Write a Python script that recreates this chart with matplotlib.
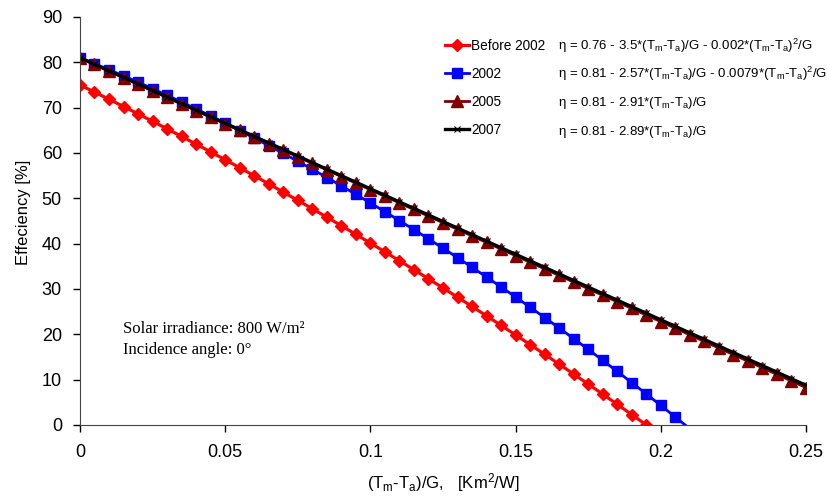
import matplotlib
matplotlib.use('Agg')
import matplotlib.pyplot as plt

plt.rcParams['font.family'] = ['Liberation Sans', 'DejaVu Sans']
plt.rcParams['mathtext.fontset'] = 'custom'
plt.rcParams['mathtext.rm'] = 'Liberation Sans'
plt.rcParams['mathtext.it'] = 'Liberation Sans:italic'

# x = (Tm-Ta)/G  [Km2/W]
x_vals = [0.0, 0.005, 0.01, 0.015, 0.02, 0.025, 0.03, 0.035, 0.04, 0.045,
          0.05, 0.055, 0.06, 0.065, 0.07, 0.075, 0.08, 0.085, 0.09, 0.095,
          0.1, 0.105, 0.11, 0.115, 0.12, 0.125, 0.13, 0.135, 0.14, 0.145,
          0.15, 0.155, 0.16, 0.165, 0.17, 0.175, 0.18, 0.185, 0.19, 0.195,
          0.2, 0.205, 0.21, 0.215, 0.22, 0.225, 0.23, 0.235, 0.24, 0.245, 0.25]

eff_before2002 = [75.0, 73.44, 71.85, 70.25, 68.63, 66.99, 65.33, 63.65, 61.96, 60.24,
                  58.51, 56.75, 54.98, 53.19, 51.38, 49.55, 47.71, 45.84, 43.96, 42.05,
                  40.13, 38.19, 36.23, 34.25, 32.25, 30.23, 28.20, 26.14, 24.07, 21.98,
                  19.87, 17.74, 15.59, 13.42, 11.23, 9.03, 6.81, 4.56, 2.30, 0.02]

eff_2002 = [81.0, 79.70, 78.37, 77.00, 75.61, 74.18, 72.72, 71.23, 69.71, 68.16,
            66.57, 64.95, 63.30, 61.62, 59.91, 58.17, 56.40, 54.59, 52.75, 50.88,
            48.98, 47.05, 45.08, 43.09, 41.06, 39.00, 36.91, 34.79, 32.63, 30.45,
            28.23, 25.98, 23.70, 21.39, 19.05, 16.67, 14.26, 11.82, 9.35, 6.85,
            4.32, 1.76, -0.84]

eff_2005 = [81.0, 79.55, 78.09, 76.64, 75.18, 73.73, 72.27, 70.82, 69.36, 67.91,
            66.45, 65.00, 63.54, 62.09, 60.63, 59.18, 57.72, 56.27, 54.81, 53.36,
            51.90, 50.45, 48.99, 47.54, 46.08, 44.63, 43.17, 41.72, 40.26, 38.81,
            37.35, 35.90, 34.44, 32.99, 31.53, 30.08, 28.62, 27.17, 25.71, 24.26,
            22.80, 21.35, 19.89, 18.44, 16.98, 15.53, 14.07, 12.62, 11.16, 9.71, 8.25]

eff_2007 = [81.0, 79.56, 78.11, 76.67, 75.22, 73.78, 72.33, 70.89, 69.44, 68.00,
            66.55, 65.11, 63.66, 62.22, 60.77, 59.33, 57.88, 56.44, 54.99, 53.55,
            52.10, 50.66, 49.21, 47.77, 46.32, 44.88, 43.43, 41.99, 40.54, 39.10,
            37.65, 36.21, 34.76, 33.32, 31.87, 30.43, 28.98, 27.54, 26.09, 24.65,
            23.20, 21.76, 20.31, 18.87, 17.42, 15.98, 14.53, 13.09, 11.64, 10.20, 8.75]

x_ticks = [0, 0.05, 0.1, 0.15, 0.2, 0.25]
x_ticklabels = ['0', '0.05', '0.1', '0.15', '0.2', '0.25']
y_ticks = [0, 10, 20, 30, 40, 50, 60, 70, 80, 90]

sub_m = r'T$_\mathregular{m}$'
sub_a = r'T$_\mathregular{a}$'
dt = '(' + sub_m + '-' + sub_a + ')'
equations = [
    'η = 0.76 - 3.5*' + dt + '/G - 0.002*' + dt + r'$^\mathregular{2}$/G',
    'η = 0.81 - 2.57*' + dt + '/G - 0.0079*' + dt + r'$^\mathregular{2}$/G',
    'η = 0.81 - 2.91*' + dt + '/G',
    'η = 0.81 - 2.89*' + dt + '/G',
]

fig = plt.figure(figsize=(8.27, 4.98), dpi=100)
ax = fig.add_axes([0.0967, 0.1466, 0.8779, 0.8193])

ax.plot(x_vals[:len(eff_before2002)], eff_before2002, '-D', color='#ff0000', lw=2.3,
        ms=6, label='Before 2002')
ax.plot(x_vals[:len(eff_2002)], eff_2002, '-s', color='#0000ff', lw=2.0,
        ms=7.5, markevery=list(range(len(eff_2002) - 1)), label='2002')
ax.plot(x_vals, eff_2005, '-^', color='#800000', lw=2.0, ms=8, label='2005')
ax.plot(x_vals, eff_2007, '-x', color='black', lw=2.4, ms=5, mew=0.8, label='2007')

ax.set_xlim(0, 0.25)
ax.set_ylim(0, 90)
ax.set_xticks(x_ticks)
ax.set_xticklabels(x_ticklabels)
ax.set_yticks(y_ticks)
ax.tick_params(direction='out', length=5, width=1, labelsize=13)
ax.tick_params(axis='x', pad=9)
ax.tick_params(axis='y', pad=8)
for side in ['top', 'right']:
    ax.spines[side].set_visible(False)
ax.spines['bottom'].set_color('#444444')
ax.spines['left'].set_color('#444444')

ax.set_ylabel('Effeciency [%]', fontsize=12)
ax.yaxis.set_label_coords(-0.068, 0.522)
ax.set_xlabel(dt + r'/G,   [Km$^\mathregular{2}$/W]', fontsize=12, labelpad=7)

leg = ax.legend(loc='upper left', bbox_to_anchor=(0.495, 0.96), frameon=False,
                fontsize=9.8, handlelength=1.8, handletextpad=0.15,
                labelspacing=1.03, borderaxespad=0)

for i, eq in enumerate(equations):
    ax.text(0.658, 0.93 - i * 0.0705, eq, transform=ax.transAxes, fontsize=9.5,
            va='center', ha='left')

ax.text(0.059, 0.21, 'Solar irradiance: 800 W/m²\nIncidence angle: 0°',
        transform=ax.transAxes, fontsize=12, family='Liberation Serif',
        va='center', ha='left', linespacing=1.45)

fig.savefig('out.png', dpi=100)
